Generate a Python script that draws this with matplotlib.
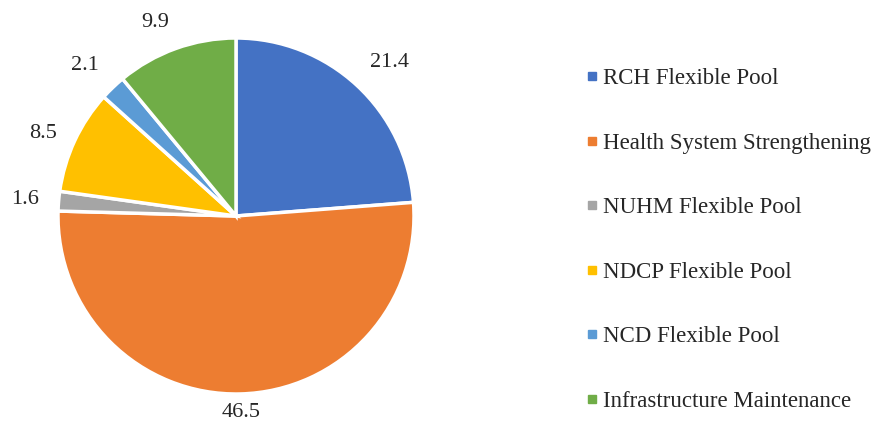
import numpy as np
import matplotlib.pyplot as plt
from matplotlib.lines import Line2D

categories = ['RCH Flexible Pool', 'Health System Strengthening', 'NUHM Flexible Pool',
              'NDCP Flexible Pool', 'NCD Flexible Pool', 'Infrastructure Maintenance']
values = [21.4, 46.5, 1.6, 8.5, 2.1, 9.9]
colors = ['#4472C4', '#ED7D31', '#A5A5A5', '#FFC000', '#5B9BD5', '#70AD47']

plt.rcParams['font.family'] = ['Liberation Serif', 'DejaVu Serif']

fig = plt.figure(figsize=(8.76, 4.30), dpi=100)
R = 178
cx, cy = 236, 214
ax = fig.add_axes([(cx - R) / 876, (cy - R) / 430, 2 * R / 876, 2 * R / 430])

wedges, _ = ax.pie(values, colors=colors, startangle=90, counterclock=False,
                   wedgeprops=dict(edgecolor='white', linewidth=2.5))

# labels outside the wedge ends
for w, v in zip(wedges, values):
    ang = np.deg2rad((w.theta1 + w.theta2) / 2)
    c, s = np.cos(ang), np.sin(ang)
    ha = 'left' if c > 0.3 else ('right' if c < -0.3 else 'center')
    va = 'bottom' if s > 0.5 else ('top' if s < -0.5 else 'center')
    ry = 1.1 if s > 0 else 1.05
    ax.text(1.11 * c, ry * s, f'{v:.1f}', ha=ha, va=va, fontsize=16, color='#262626')

ax.set_xlim(-1, 1)
ax.set_ylim(-1, 1)
ax.set_aspect('equal')
ax.axis('off')

handles = [Line2D([], [], marker='s', linestyle='none', markersize=6,
                  markerfacecolor=col, markeredgecolor=col) for col in colors]
fig.legend(handles, categories, loc='center left', bbox_to_anchor=(0.646, 0.442),
           frameon=False, fontsize=16.5, labelspacing=1.9, handlelength=0.5,
           handletextpad=0.2, labelcolor='#262626')

fig.savefig('out.png', dpi=100)
